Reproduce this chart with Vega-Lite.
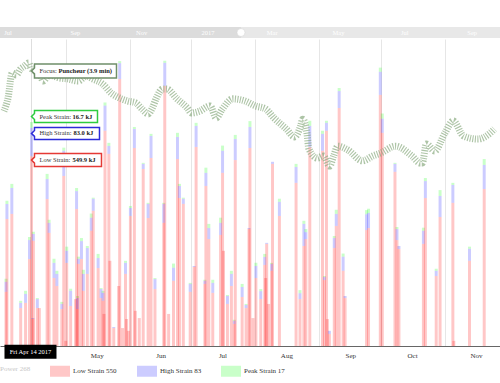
{
  "$schema": "https://vega.github.io/schema/vega-lite/v6.json",
  "padding": {"top": 27, "left": 0, "right": 0, "bottom": 0},
  "spacing": 0,
  "background": "white",
  "config": {"view": {"stroke": null}, "font": "Liberation Serif", "concat": {"spacing": 0}},
  "resolve": {"scale": {"x": "independent"}},
  "datasets": {
    "strain": [
      {"d":"2017-04-02T00:00","low":157,"high":29,"peak":9},
      {"d":"2017-04-02T11:00","low":368,"high":44,"peak":9},
      {"d":"2017-04-04T20:00","low":383,"high":75,"peak":12},
      {"d":"2017-04-09T03:00","low":110,"high":15,"peak":6},
      {"d":"2017-04-11T12:00","low":125,"high":26,"peak":9},
      {"d":"2017-04-13T10:00","low":252,"high":55,"peak":9},
      {"d":"2017-04-14T09:00","low":549.9,"high":83.0,"peak":16.7},
      {"d":"2017-04-15T01:00","low":78,"high":3,"peak":0},
      {"d":"2017-04-15T07:00","low":305,"high":20,"peak":6},
      {"d":"2017-04-17T05:00","low":110,"high":26,"peak":3},
      {"d":"2017-04-18T04:00","low":110,"high":0,"peak":0},
      {"d":"2017-04-21T23:00","low":426,"high":58,"peak":15},
      {"d":"2017-04-22T22:00","low":328,"high":29,"peak":9},
      {"d":"2017-04-25T07:00","low":197,"high":44,"peak":12},
      {"d":"2017-04-26T17:00","low":174,"high":35,"peak":9},
      {"d":"2017-04-29T02:00","low":107,"high":15,"peak":6},
      {"d":"2017-04-30T01:00","low":493,"high":73,"peak":9},
      {"d":"2017-05-01T00:00","low":15,"high":0,"peak":0},
      {"d":"2017-05-01T11:00","low":241,"high":35,"peak":12},
      {"d":"2017-05-03T09:00","low":116,"high":44,"peak":6},
      {"d":"2017-05-05T18:00","low":136,"high":0,"peak":0},
      {"d":"2017-05-06T06:00","low":397,"high":52,"peak":9},
      {"d":"2017-05-06T17:00","low":107,"high":32,"peak":6},
      {"d":"2017-05-07T04:00","low":238,"high":15,"peak":6},
      {"d":"2017-05-08T15:00","low":252,"high":52,"peak":9},
      {"d":"2017-05-09T13:00","low":160,"high":49,"peak":12},
      {"d":"2017-05-11T11:00","low":209,"high":75,"peak":6},
      {"d":"2017-05-13T09:00","low":334,"high":38,"peak":12},
      {"d":"2017-05-14T08:00","low":392,"high":35,"peak":3},
      {"d":"2017-05-16T17:00","low":226,"high":29,"peak":12},
      {"d":"2017-05-18T03:00","low":139,"high":26,"peak":3},
      {"d":"2017-05-19T02:00","low":131,"high":23,"peak":6},
      {"d":"2017-05-19T13:00","low":93,"high":0,"peak":0},
      {"d":"2017-05-20T01:00","low":624,"high":73,"peak":9},
      {"d":"2017-05-21T22:00","low":557,"high":23,"peak":9},
      {"d":"2017-05-22T10:00","low":247,"high":0,"peak":0},
      {"d":"2017-05-24T07:00","low":52,"high":3,"peak":0},
      {"d":"2017-05-26T16:00","low":174,"high":0,"peak":0},
      {"d":"2017-05-27T04:00","low":774,"high":46,"peak":6},
      {"d":"2017-05-28T14:00","low":52,"high":0,"peak":0},
      {"d":"2017-05-30T00:00","low":209,"high":32,"peak":6},
      {"d":"2017-05-30T12:00","low":78,"high":0,"peak":0},
      {"d":"2017-05-31T10:00","low":44,"high":0,"peak":0},
      {"d":"2017-06-01T09:00","low":377,"high":23,"peak":6},
      {"d":"2017-06-03T07:00","low":574,"high":55,"peak":6},
      {"d":"2017-06-03T18:00","low":102,"high":0,"peak":0},
      {"d":"2017-06-05T16:00","low":81,"high":0,"peak":0},
      {"d":"2017-06-07T14:00","low":513,"high":15,"peak":3},
      {"d":"2017-06-09T23:00","low":371,"high":41,"peak":3},
      {"d":"2017-06-11T09:00","low":545,"high":64,"peak":6},
      {"d":"2017-06-13T07:00","low":165,"high":29,"peak":3},
      {"d":"2017-06-17T13:00","low":357,"high":55,"peak":3},
      {"d":"2017-06-18T01:00","low":754,"high":67,"peak":6},
      {"d":"2017-06-19T22:00","low":93,"high":0,"peak":0},
      {"d":"2017-06-22T07:00","low":189,"high":38,"peak":12},
      {"d":"2017-06-24T05:00","low":542,"high":64,"peak":12},
      {"d":"2017-06-25T04:00","low":429,"high":35,"peak":6},
      {"d":"2017-06-27T01:00","low":412,"high":15,"peak":3},
      {"d":"2017-06-30T09:00","low":157,"high":23,"peak":3},
      {"d":"2017-07-02T07:00","low":229,"high":3,"peak":0},
      {"d":"2017-07-03T06:00","low":577,"high":61,"peak":9},
      {"d":"2017-07-07T12:00","low":180,"high":9,"peak":3},
      {"d":"2017-07-08T00:00","low":464,"high":38,"peak":15},
      {"d":"2017-07-09T10:00","low":310,"high":32,"peak":12},
      {"d":"2017-07-11T08:00","low":154,"high":29,"peak":9},
      {"d":"2017-07-15T03:00","low":322,"high":35,"peak":15},
      {"d":"2017-07-16T02:00","low":502,"high":64,"peak":15},
      {"d":"2017-07-16T13:00","low":276,"high":0,"peak":0},
      {"d":"2017-07-18T11:00","low":122,"high":23,"peak":3},
      {"d":"2017-07-20T09:00","low":174,"high":35,"peak":9},
      {"d":"2017-07-21T19:00","low":64,"high":9,"peak":3},
      {"d":"2017-07-22T06:00","low":539,"high":61,"peak":12},
      {"d":"2017-07-25T14:00","low":142,"high":29,"peak":9},
      {"d":"2017-07-27T12:00","low":110,"high":9,"peak":3},
      {"d":"2017-07-28T22:00","low":339,"high":3,"peak":0},
      {"d":"2017-07-29T09:00","low":574,"high":61,"peak":17},
      {"d":"2017-07-30T20:00","low":81,"high":0,"peak":0},
      {"d":"2017-08-01T06:00","low":197,"high":35,"peak":9},
      {"d":"2017-08-03T15:00","low":136,"high":23,"peak":6},
      {"d":"2017-08-05T13:00","low":235,"high":23,"peak":9},
      {"d":"2017-08-06T00:00","low":197,"high":0,"peak":0},
      {"d":"2017-08-06T12:00","low":296,"high":3,"peak":0},
      {"d":"2017-08-07T10:00","low":122,"high":0,"peak":0},
      {"d":"2017-08-08T21:00","low":218,"high":20,"peak":3},
      {"d":"2017-08-09T08:00","low":528,"high":6,"peak":0},
      {"d":"2017-08-12T16:00","low":377,"high":41,"peak":9},
      {"d":"2017-08-20T18:00","low":473,"high":46,"peak":9},
      {"d":"2017-08-22T16:00","low":136,"high":17,"peak":9},
      {"d":"2017-08-24T13:00","low":290,"high":64,"peak":9},
      {"d":"2017-08-25T12:00","low":310,"high":20,"peak":9},
      {"d":"2017-08-27T10:00","low":577,"high":61,"peak":15},
      {"d":"2017-09-02T14:00","low":566,"high":49,"peak":9},
      {"d":"2017-09-03T13:00","low":191,"high":9,"peak":3},
      {"d":"2017-09-04T12:00","low":624,"high":23,"peak":6},
      {"d":"2017-09-04T23:00","low":78,"high":0,"peak":0},
      {"d":"2017-09-05T22:00","low":35,"high":9,"peak":0},
      {"d":"2017-09-08T07:00","low":284,"high":29,"peak":6},
      {"d":"2017-09-09T06:00","low":348,"high":35,"peak":12},
      {"d":"2017-09-10T16:00","low":690,"high":49,"peak":9},
      {"d":"2017-09-12T14:00","low":218,"high":41,"peak":9},
      {"d":"2017-09-13T13:00","low":139,"high":6,"peak":0},
      {"d":"2017-09-23T23:00","low":336,"high":46,"peak":12},
      {"d":"2017-09-24T22:00","low":342,"high":44,"peak":12},
      {"d":"2017-09-30T15:00","low":728,"high":67,"peak":12},
      {"d":"2017-10-01T14:00","low":618,"high":41,"peak":15},
      {"d":"2017-10-07T18:00","low":505,"high":23,"peak":3},
      {"d":"2017-10-08T17:00","low":307,"high":32,"peak":6},
      {"d":"2017-10-09T16:00","low":281,"high":9,"peak":0},
      {"d":"2017-10-21T13:00","low":296,"high":38,"peak":9},
      {"d":"2017-10-22T12:00","low":429,"high":49,"peak":9},
      {"d":"2017-10-27T18:00","low":203,"high":15,"peak":6},
      {"d":"2017-10-29T15:00","low":374,"high":61,"peak":17},
      {"d":"2017-11-04T20:00","low":415,"high":52,"peak":6},
      {"d":"2017-11-05T07:00","low":15,"high":0,"peak":0},
      {"d":"2017-11-12T22:00","low":247,"high":35,"peak":6},
      {"d":"2017-11-20T01:00","low":455,"high":70,"peak":17}
    ],
    "focus": [
      {"d":"2017-04-01T00:00","v":76.5},{"d":"2017-04-03T00:00","v":80.8},{"d":"2017-04-05T00:00","v":88.9},
      {"d":"2017-04-07T00:00","v":88.3},{"d":"2017-04-09T00:00","v":90.2},{"d":"2017-04-11T00:00","v":91.2},
      {"d":"2017-04-13T00:00","v":92.2},{"d":"2017-04-14T00:00","v":90.6},{"d":"2017-04-16T00:00","v":89.6},
      {"d":"2017-04-19T00:00","v":87.6},{"d":"2017-04-20T00:00","v":86.3},{"d":"2017-04-23T00:00","v":88.3},
      {"d":"2017-04-28T00:00","v":87.3},{"d":"2017-05-02T00:00","v":87.0},{"d":"2017-05-07T00:00","v":86.3},
      {"d":"2017-05-11T00:00","v":87.9},{"d":"2017-05-14T00:00","v":87.0},{"d":"2017-05-19T00:00","v":85.3},
      {"d":"2017-05-23T00:00","v":82.4},{"d":"2017-05-27T00:00","v":80.8},{"d":"2017-05-31T00:00","v":79.8},
      {"d":"2017-06-04T00:00","v":79.2},{"d":"2017-06-07T00:00","v":77.2},{"d":"2017-06-10T00:00","v":75.6},
      {"d":"2017-06-12T00:00","v":77.5},{"d":"2017-06-14T00:00","v":80.8},{"d":"2017-06-17T00:00","v":83.7},
      {"d":"2017-06-19T00:00","v":83.7},{"d":"2017-06-24T00:00","v":80.5},{"d":"2017-06-29T00:00","v":77.5},
      {"d":"2017-07-01T00:00","v":75.9},{"d":"2017-07-05T00:00","v":76.5},{"d":"2017-07-10T00:00","v":78.2},
      {"d":"2017-07-13T00:00","v":74.3},{"d":"2017-07-16T00:00","v":77.2},{"d":"2017-07-21T00:00","v":80.5},
      {"d":"2017-07-27T00:00","v":79.8},{"d":"2017-08-01T00:00","v":78.2},{"d":"2017-08-06T00:00","v":77.2},
      {"d":"2017-08-10T00:00","v":74.3},{"d":"2017-08-16T00:00","v":70.7},{"d":"2017-08-20T00:00","v":68.1},
      {"d":"2017-08-23T00:00","v":71.7},{"d":"2017-08-24T00:00","v":73.9},{"d":"2017-08-25T00:00","v":72.6},
      {"d":"2017-08-26T00:00","v":69.4},{"d":"2017-08-27T00:00","v":64.2},{"d":"2017-08-31T00:00","v":61.2},
      {"d":"2017-09-03T00:00","v":61.9},{"d":"2017-09-06T00:00","v":58.6},{"d":"2017-09-08T00:00","v":61.9},
      {"d":"2017-09-10T00:00","v":65.1},{"d":"2017-09-15T00:00","v":63.8},{"d":"2017-09-22T00:00","v":60.3},
      {"d":"2017-09-27T00:00","v":61.9},{"d":"2017-10-01T00:00","v":62.9},{"d":"2017-10-08T00:00","v":65.1},
      {"d":"2017-10-16T00:00","v":61.9},{"d":"2017-10-20T00:00","v":59.6},{"d":"2017-10-21T00:00","v":59.6},
      {"d":"2017-10-23T00:00","v":65.8},{"d":"2017-10-27T00:00","v":63.5},{"d":"2017-11-01T00:00","v":69.4},
      {"d":"2017-11-05T00:00","v":73.3},{"d":"2017-11-10T00:00","v":68.4},{"d":"2017-11-17T00:00","v":67.4},
      {"d":"2017-11-23T00:00","v":69.4},{"d":"2017-11-25T00:00","v":70.7}
    ],
    "hover": [
      {"d":"2017-04-14T09:00","focus":89.6,"name":"Puncheur (3.9 min)","low":549.9,"high":83.0,"peak":16.7}
    ],
    "nav": [
      {"s":"2016-06-23T15:00","e":"2017-01-31T08:00"}
    ],
    "nav2": [
      {"s":"2017-01-31T08:00","e":"2017-09-26T15:00"}
    ],
    "navlabels": [
      {"d":"2016-07-01T00:00","t":"Jul"},{"d":"2016-09-01T00:00","t":"Sep"},{"d":"2016-11-01T00:00","t":"Nov"},
      {"d":"2017-01-01T00:00","t":"2017"},{"d":"2017-03-01T00:00","t":"Mar"},{"d":"2017-05-01T00:00","t":"May"},
      {"d":"2017-07-01T00:00","t":"Jul"},{"d":"2017-09-01T00:00","t":"Sep"}
    ],
    "handle": [{"d":"2017-01-31T08:00"}]
  },
  "vconcat": [
    {
      "width": 500,
      "height": 11,
      "layer": [
        {
          "data": {"name": "nav"},
          "mark": {"type": "rect", "color": "#dcdcdc", "clip": true},
          "encoding": {
            "x": {"field": "s", "type": "temporal", "scale": {"domain": [{"year":2016,"month":6,"date":23,"hours":15}, {"year":2017,"month":9,"date":26,"hours":15}]}, "axis": null},
            "x2": {"field": "e"}
          }
        },
        {
          "data": {"name": "nav2"},
          "mark": {"type": "rect", "color": "#e8e8e8", "clip": true},
          "encoding": {
            "x": {"field": "s", "type": "temporal", "scale": {"domain": [{"year":2016,"month":6,"date":23,"hours":15}, {"year":2017,"month":9,"date":26,"hours":15}]}, "axis": null},
            "x2": {"field": "e"}
          }
        },
        {
          "data": {"name": "navlabels"},
          "mark": {"type": "text", "color": "white", "fontSize": 6.5, "font": "Liberation Serif", "baseline": "middle"},
          "encoding": {
            "x": {"field": "d", "type": "temporal", "scale": {"domain": [{"year":2016,"month":6,"date":23,"hours":15}, {"year":2017,"month":9,"date":26,"hours":15}]}, "axis": null},
            "text": {"field": "t"}
          }
        },
        {
          "data": {"name": "handle"},
          "mark": {"type": "point", "shape": "circle", "filled": true, "fill": "white", "stroke": "#d0d0d0", "strokeWidth": 0.5, "size": 64, "opacity": 1},
          "encoding": {
            "x": {"field": "d", "type": "temporal", "scale": {"domain": [{"year":2016,"month":6,"date":23,"hours":15}, {"year":2017,"month":9,"date":26,"hours":15}]}, "axis": null}
          }
        }
      ]
    },
    {
      "width": 500,
      "height": 307,
      "resolve": {"scale": {"y": "independent"}},
      "layer": [
        {
          "data": {"name": "hover"},
          "mark": {"type": "rule", "color": "#dedede", "strokeWidth": 1},
          "encoding": {
            "x": {
              "field": "d", "type": "temporal",
              "scale": {"domain": [{"year":2017,"month":4,"date":1,"hours":12,"minutes":30}, {"year":2017,"month":11,"date":25,"hours":6,"minutes":45}]},
              "axis": {
                "values": [{"year":2017,"month":5,"date":1},{"year":2017,"month":6,"date":1},{"year":2017,"month":7,"date":1},{"year":2017,"month":8,"date":1},{"year":2017,"month":9,"date":1},{"year":2017,"month":10,"date":1},{"year":2017,"month":11,"date":1}],
                "format": "%b", "labelOffset": 31, "grid": true, "gridColor": "#e6e6e6", "gridWidth": 1,
                "ticks": false, "domain": true, "domainColor": "#666666", "domainWidth": 1,
                "labelFont": "Liberation Serif", "labelFontSize": 7, "labelColor": "#333333", "labelPadding": 5,
                "labelFlush": false, "labelOverlap": false, "title": null
              }
            }
          }
        },
        {
          "data": {"name": "strain"},
          "transform": [
            {"fold": ["low", "high", "peak"], "as": ["strain", "kJ"]},
            {"stack": "kJ", "groupby": ["d"], "as": ["y0", "y1"]}
          ],
          "mark": {"type": "bar", "width": 3, "clip": true},
          "encoding": {
            "x": {"field": "d", "type": "temporal", "scale": {"domain": [{"year":2017,"month":4,"date":1,"hours":12,"minutes":30}, {"year":2017,"month":11,"date":25,"hours":6,"minutes":45}]}},
            "y": {"field": "y0", "type": "quantitative", "scale": {"domain": [0, 890]}, "axis": null},
            "y2": {"field": "y1"},
            "color": {
              "field": "strain", "type": "nominal",
              "scale": {"domain": ["low", "high", "peak"], "range": ["rgba(255,0,0,0.22)", "rgba(0,0,255,0.2)", "rgba(0,255,0,0.21)"]},
              "legend": {
                "orient": "none", "legendX": 0, "legendY": 334, "direction": "horizontal",
                "title": "Power  268", "titleOrient": "left", "titleColor": "#c8c8c8",
                "titleFont": "Liberation Serif", "titleFontSize": 7, "titleFontWeight": "normal", "titlePadding": 18,
                "titleBaseline": "middle",
                "symbolType": "M-1,-0.55H1V0.55H-1Z", "symbolSize": 400, "symbolStrokeWidth": 0,
                "labelFont": "Liberation Serif", "labelFontSize": 7, "labelColor": "#333333", "labelOffset": 3,
                "columnPadding": 18, "padding": 0,
                "labelExpr": "datum.value=='low'?'Low Strain  550':datum.value=='high'?'High Strain  83':'Peak Strain  17'"
              }
            }
          }
        },
        {
          "data": {"name": "focus"},
          "mark": {"type": "line", "clip": true, "stroke": "#8aab80", "strokeWidth": 7, "strokeDash": [1.1, 1.4], "interpolate": "monotone", "opacity": 0.7},
          "encoding": {
            "x": {"field": "d", "type": "temporal", "scale": {"domain": [{"year":2017,"month":4,"date":1,"hours":12,"minutes":30}, {"year":2017,"month":11,"date":25,"hours":6,"minutes":45}]}},
            "y": {"field": "v", "type": "quantitative", "scale": {"domain": [0, 100]}, "axis": null}
          }
        },
        {
          "data": {"name": "hover"},
          "layer": [
            {
              "mark": {"type": "point", "shape": "M-1,-0.171H1V0.171H-1V0.073L-1.073,0L-1,-0.073Z", "size": 6724, "filled": true, "fill": "white", "stroke": "#6f8f69", "strokeWidth": 1.5, "opacity": 1, "xOffset": 44},
              "encoding": {
                "x": {"field": "d", "type": "temporal", "scale": {"domain": [{"year":2017,"month":4,"date":1,"hours":12,"minutes":30}, {"year":2017,"month":11,"date":25,"hours":6,"minutes":45}]}},
                "y": {"field": "focus", "type": "quantitative", "scale": {"domain": [0, 100]}, "axis": null}
              }
            },
            {
              "mark": {"type": "text", "align": "left", "baseline": "middle", "dx": 8, "fontSize": 6.5, "color": "#333333"},
              "encoding": {
                "x": {"field": "d", "type": "temporal"},
                "y": {"field": "focus", "type": "quantitative"},
                "text": {"value": "Focus:"}
              }
            },
            {
              "mark": {"type": "text", "align": "left", "baseline": "middle", "dx": 27, "fontSize": 6.5, "fontWeight": "bold", "color": "#222222"},
              "encoding": {
                "x": {"field": "d", "type": "temporal"},
                "y": {"field": "focus", "type": "quantitative"},
                "text": {"field": "name"}
              }
            }
          ]
        },
        {
          "data": {"name": "hover"},
          "transform": [
            {"fold": ["low", "high", "peak"], "as": ["strain", "kJ"]},
            {"stack": "kJ", "groupby": ["d"], "as": ["y0", "y1"]},
            {"filter": "datum.strain == 'low'"},
            {"calculate": "format(datum.kJ, '.1f') + ' kJ'", "as": "lbl"}
          ],
          "layer": [
            {
              "mark": {"type": "point", "shape": "M-1,-0.194H1V0.194H-1V0.09L-1.09,0L-1,-0.09Z", "size": 4489, "filled": true, "fill": "white", "stroke": "#e53935", "strokeWidth": 1.5, "opacity": 1, "xOffset": 36.5, "yOffset": 1.7},
              "encoding": {
                "x": {"field": "d", "type": "temporal", "scale": {"domain": [{"year":2017,"month":4,"date":1,"hours":12,"minutes":30}, {"year":2017,"month":11,"date":25,"hours":6,"minutes":45}]}},
                "y": {"field": "y1", "type": "quantitative", "scale": {"domain": [0, 890]}, "axis": null}
              }
            },
            {
              "mark": {"type": "text", "align": "left", "baseline": "middle", "dx": 8, "dy": 1.7, "fontSize": 6.5, "color": "#333333"},
              "encoding": {"x": {"field": "d", "type": "temporal"}, "y": {"field": "y1", "type": "quantitative"}, "text": {"value": "Low Strain:"}}
            },
            {
              "mark": {"type": "text", "align": "left", "baseline": "middle", "dx": 41, "dy": 1.7, "fontSize": 6.5, "fontWeight": "bold", "color": "#222222"},
              "encoding": {"x": {"field": "d", "type": "temporal"}, "y": {"field": "y1", "type": "quantitative"}, "text": {"field": "lbl"}}
            }
          ]
        },
        {
          "data": {"name": "hover"},
          "transform": [
            {"fold": ["low", "high", "peak"], "as": ["strain", "kJ"]},
            {"stack": "kJ", "groupby": ["d"], "as": ["y0", "y1"]},
            {"filter": "datum.strain == 'high'"},
            {"calculate": "format(datum.kJ, '.1f') + ' kJ'", "as": "lbl"}
          ],
          "layer": [
            {
              "mark": {"type": "point", "shape": "M-1,-0.185H1V0.185H-1V0.092L-1.092,0L-1,-0.092Z", "size": 4225, "filled": true, "fill": "white", "stroke": "#2b2bd9", "strokeWidth": 1.5, "opacity": 1, "xOffset": 35.5, "yOffset": 3.3},
              "encoding": {
                "x": {"field": "d", "type": "temporal", "scale": {"domain": [{"year":2017,"month":4,"date":1,"hours":12,"minutes":30}, {"year":2017,"month":11,"date":25,"hours":6,"minutes":45}]}},
                "y": {"field": "y1", "type": "quantitative", "scale": {"domain": [0, 890]}, "axis": null}
              }
            },
            {
              "mark": {"type": "text", "align": "left", "baseline": "middle", "dx": 8, "dy": 3.3, "fontSize": 6.5, "color": "#333333"},
              "encoding": {"x": {"field": "d", "type": "temporal"}, "y": {"field": "y1", "type": "quantitative"}, "text": {"value": "High Strain:"}}
            },
            {
              "mark": {"type": "text", "align": "left", "baseline": "middle", "dx": 42, "dy": 3.3, "fontSize": 6.5, "fontWeight": "bold", "color": "#222222"},
              "encoding": {"x": {"field": "d", "type": "temporal"}, "y": {"field": "y1", "type": "quantitative"}, "text": {"field": "lbl"}}
            }
          ]
        },
        {
          "data": {"name": "hover"},
          "transform": [
            {"fold": ["low", "high", "peak"], "as": ["strain", "kJ"]},
            {"stack": "kJ", "groupby": ["d"], "as": ["y0", "y1"]},
            {"filter": "datum.strain == 'peak'"},
            {"calculate": "format(datum.kJ, '.1f') + ' kJ'", "as": "lbl"}
          ],
          "layer": [
            {
              "mark": {"type": "point", "shape": "M-1,-0.19H1V0.19H-1V0.095L-1.095,0L-1,-0.095Z", "size": 3969, "filled": true, "fill": "white", "stroke": "#2ecc40", "strokeWidth": 1.5, "opacity": 1, "xOffset": 34.5, "yOffset": -7.9},
              "encoding": {
                "x": {"field": "d", "type": "temporal", "scale": {"domain": [{"year":2017,"month":4,"date":1,"hours":12,"minutes":30}, {"year":2017,"month":11,"date":25,"hours":6,"minutes":45}]}},
                "y": {"field": "y1", "type": "quantitative", "scale": {"domain": [0, 890]}, "axis": null}
              }
            },
            {
              "mark": {"type": "text", "align": "left", "baseline": "middle", "dx": 8, "dy": -7.9, "fontSize": 6.5, "color": "#333333"},
              "encoding": {"x": {"field": "d", "type": "temporal"}, "y": {"field": "y1", "type": "quantitative"}, "text": {"value": "Peak Strain:"}}
            },
            {
              "mark": {"type": "text", "align": "left", "baseline": "middle", "dx": 41, "dy": -7.9, "fontSize": 6.5, "fontWeight": "bold", "color": "#222222"},
              "encoding": {"x": {"field": "d", "type": "temporal"}, "y": {"field": "y1", "type": "quantitative"}, "text": {"field": "lbl"}}
            }
          ]
        },
        {
          "data": {"name": "hover"},
          "layer": [
            {
              "mark": {"type": "point", "shape": "M-1,-0.27H1V0.27H-1Z", "size": 2704, "filled": true, "fill": "black", "strokeWidth": 0, "opacity": 1, "xOffset": -1},
              "encoding": {
                "x": {"field": "d", "type": "temporal", "scale": {"domain": [{"year":2017,"month":4,"date":1,"hours":12,"minutes":30}, {"year":2017,"month":11,"date":25,"hours":6,"minutes":45}]}},
                "y": {"datum": -17, "type": "quantitative", "scale": {"domain": [0, 890]}, "axis": null}
              }
            },
            {
              "mark": {"type": "text", "color": "white", "fontSize": 6.5, "baseline": "middle", "xOffset": -1},
              "encoding": {
                "x": {"field": "d", "type": "temporal"},
                "y": {"datum": -17, "type": "quantitative"},
                "text": {"field": "d", "type": "temporal", "format": "%a %b %d %Y"}
              }
            }
          ]
        }
      ]
    }
  ]
}
